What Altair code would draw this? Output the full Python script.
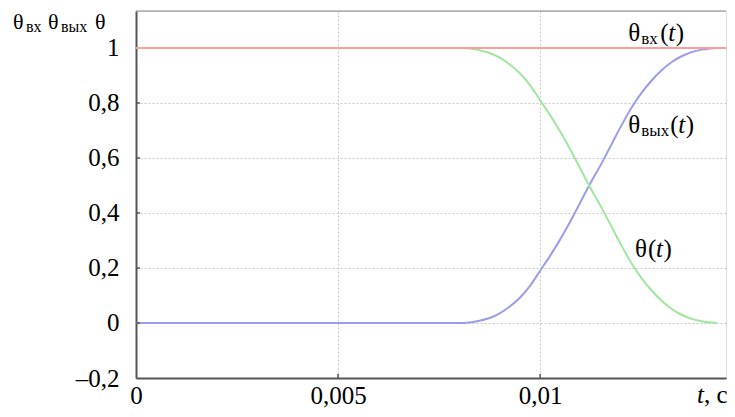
import altair as alt
import pandas as pd

# ---- data ----
t_in = [0.0, 0.0146]
theta_in = [1.0, 1.0]

t_out = [0.0, 0.0080, 0.00825, 0.0085, 0.00875, 0.0090, 0.00925, 0.0095, 0.00975,
         0.0100, 0.01025, 0.0105, 0.01075, 0.0110, 0.01125, 0.0115, 0.01175,
         0.0120, 0.01225, 0.0125, 0.01275, 0.0130, 0.01325, 0.0135, 0.01375,
         0.0140, 0.01438]
theta_out = [0.0, 0.0, 0.002, 0.008, 0.018, 0.035, 0.06, 0.092, 0.135,
             0.19, 0.245, 0.305, 0.37, 0.44, 0.51, 0.575, 0.645,
             0.715, 0.78, 0.835, 0.88, 0.918, 0.948, 0.97, 0.985,
             0.994, 1.0]

t_err = [0.0080, 0.00825, 0.0085, 0.00875, 0.0090, 0.00925, 0.0095, 0.00975,
         0.0100, 0.01025, 0.0105, 0.01075, 0.0110, 0.01125, 0.0115, 0.01175,
         0.0120, 0.01225, 0.0125, 0.01275, 0.0130, 0.01325, 0.0135, 0.01375,
         0.0140, 0.01438]
theta_err = [1.0, 0.998, 0.992, 0.982, 0.965, 0.94, 0.908, 0.865,
             0.81, 0.755, 0.695, 0.63, 0.56, 0.49, 0.425, 0.355,
             0.285, 0.22, 0.165, 0.12, 0.082, 0.052, 0.03, 0.015,
             0.006, 0.0]

x_ticks = [0, 0.005, 0.01]
y_ticks = [-0.2, 0.0, 0.2, 0.4, 0.6, 0.8, 1.0]

X_DOMAIN = [0, 0.0146]
Y_DOMAIN = [-0.2, 1.1345]

FONT = "Liberation Serif, DejaVu Serif, serif"
W, H = 590, 367

df_in = pd.DataFrame({"t": t_in, "v": theta_in})
df_out = pd.DataFrame({"t": t_out, "v": theta_out})
df_err = pd.DataFrame({"t": t_err, "v": theta_err})
one = pd.DataFrame({"a": [0]})

xs = alt.Scale(domain=X_DOMAIN, nice=False, zero=False)
ys = alt.Scale(domain=Y_DOMAIN, nice=False, zero=False)

x_axis = alt.Axis(
    values=x_ticks, title=None, grid=True, gridDash=[2, 2], gridColor="#c8c8c8",
    domainColor="#555555", domainWidth=2, ticks=False, labelFont=FONT,
    labelFontSize=25, labelColor="black", labelPadding=25, labelBaseline="alphabetic",
    labelFlush=False,
    labelExpr="datum.value == 0 ? '0' : replace(toString(datum.value), '.', ',')",
)
y_axis = alt.Axis(
    values=y_ticks, title=None, grid=True, gridDash=[2, 2], gridColor="#c8c8c8",
    domainColor="#555555", domainWidth=2, ticks=False, labelFont=FONT,
    labelFontSize=25, labelColor="black", labelPadding=17, labelBaseline="middle",
    labelFlush=False,
    labelExpr="datum.value == 0 ? '0' : datum.value == 1 ? '1' : "
              "(datum.value < 0 ? '\u2013' : '') + replace(format(abs(datum.value), '.1f'), '.', ',')",
)

X = alt.X("t:Q", scale=xs, axis=x_axis)
Y = alt.Y("v:Q", scale=ys, axis=y_axis)

blue = alt.Chart(df_out).mark_line(color="#9c9cec", strokeWidth=2, interpolate="monotone").encode(x=X, y=Y)
green = alt.Chart(df_err).mark_line(color="#9fe69f", strokeWidth=2, interpolate="monotone").encode(
    x=alt.X("t:Q", scale=xs), y=alt.Y("v:Q", scale=ys))
red = alt.Chart(df_in).mark_line(color="#ff9c9c", strokeWidth=2).encode(
    x=alt.X("t:Q", scale=xs), y=alt.Y("v:Q", scale=ys))

# inward tick marks
df_yt = pd.DataFrame({"v": y_ticks[1:-1]})
ytick = alt.Chart(df_yt).mark_rule(color="#555555", strokeWidth=1.5).encode(
    y=alt.Y("v:Q", scale=ys), x=alt.value(0), x2=alt.value(4))
df_xt = pd.DataFrame({"t": x_ticks[1:]})
xtick = alt.Chart(df_xt).mark_rule(color="#555555", strokeWidth=1.5).encode(
    x=alt.X("t:Q", scale=xs), y=alt.value(H), y2=alt.value(H - 4))

# top frame
top = alt.Chart(one).mark_rule(color="#888888", strokeWidth=1).encode(
    x=alt.value(0), x2=alt.value(W), y=alt.value(0))

def piece(text, tx, vy, dx, dy=0, size=25, italic=False):
    d = pd.DataFrame({"t": [tx], "v": [vy]})
    return alt.Chart(d).mark_text(
        text=text, font=FONT, fontSize=size, align="left", baseline="alphabetic",
        dx=dx, dy=dy, color="black", fontStyle="italic" if italic else "normal",
    ).encode(x=alt.X("t:Q", scale=xs), y=alt.Y("v:Q", scale=ys))

def fixed(text, px, py, size=25, italic=False):
    return alt.Chart(one).mark_text(
        text=text, font=FONT, fontSize=size, align="left", baseline="alphabetic",
        color="black", fontStyle="italic" if italic else "normal",
    ).encode(x=alt.value(px), y=alt.value(py))

labels = [
    # θвх(t)
    piece("θ", 0.01218, 1.025, 0), piece("вх", 0.01218, 1.025, 13, 3, 17),
    piece("(", 0.01218, 1.025, 32), piece("t", 0.01218, 1.025, 40, italic=True),
    piece(")", 0.01218, 1.025, 47.5),
    # θвых(t)
    piece("θ", 0.01218, 0.691, 0), piece("вых", 0.01218, 0.691, 13, 3, 17),
    piece("(", 0.01218, 0.691, 42), piece("t", 0.01218, 0.691, 50, italic=True),
    piece(")", 0.01218, 0.691, 57.5),
    # θ(t)
    piece("θ", 0.01235, 0.24, 0), piece("(", 0.01235, 0.24, 13),
    piece("t", 0.01235, 0.24, 21, italic=True), piece(")", 0.01235, 0.24, 28.5),
    # axis title on the left
    fixed("θ", -123, 18, 22), fixed("вх", -110, 21, 16),
    fixed("θ", -88, 18, 22), fixed("вых", -75, 21, 16),
    fixed("θ", -41, 18, 22),
    # x axis unit
    fixed("t", 561, H + 25, 25, italic=True), fixed(", с", 568, H + 25, 25),
]

chart = alt.layer(blue, green, red, ytick, xtick, top, *labels).properties(
    width=W, height=H,
    padding={"left": 128, "top": 3, "right": 1, "bottom": 31},
    autosize=alt.AutoSizeParams(type="none"),
).configure_view(stroke=None, fill="#f7f7f7").configure(background="white")

chart.save("out.html", embed_options={"renderer": "svg", "actions": False})
